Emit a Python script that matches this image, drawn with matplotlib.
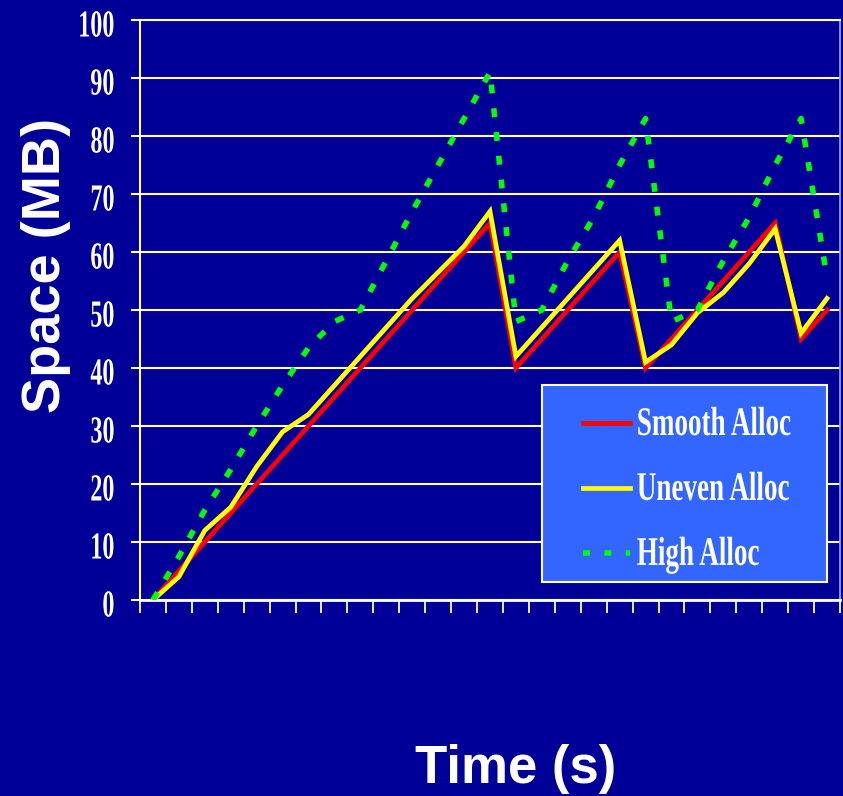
import numpy as np
import matplotlib
matplotlib.use('Agg')
import matplotlib.pyplot as plt
from matplotlib.patheffects import AbstractPathEffect
from matplotlib.transforms import Affine2D, Bbox
from matplotlib.patches import Rectangle

# ---- data ----
smooth_alloc = [0, 5, 10, 15, 20, 25, 30, 35, 40, 45, 50, 55, 60, 65,
                40, 45, 50, 55, 60, 40, 45, 50, 55, 60, 65, 45, 50]
uneven_alloc = [0, 4, 12, 16, 23, 29, 32, 37, 42, 47, 52, 56.5, 61, 67,
                42, 47, 52, 57, 62, 41, 44, 49.5, 53, 58, 64, 46, 52]
high_alloc = [0, 7.5, 15.5, 22.5, 30, 37, 43.5, 48, 50, 58.5, 67, 75, 83, 91,
              48, 50, 58.5, 66, 75, 83, 48, 50, 58.5, 66, 75, 83, 55.5]
series_names = ['Smooth Alloc', 'Uneven Alloc', 'High Alloc']
y_ticks = [0, 10, 20, 30, 40, 50, 60, 70, 80, 90, 100]
x_label = 'Time (s)'
y_label = 'Space (MB)'

W, H = 843, 796
BG = '#000099'


class Condense(AbstractPathEffect):
    """Reshape glyphs (narrow/tall condensed Times look)."""
    def __init__(self, sx=0.65, sy=1.0, anchor='left', dy=0.0):
        super().__init__()
        self.sx = sx
        self.sy = sy
        self.anchor = anchor
        self.dy = dy

    def draw_path(self, renderer, gc, tpath, affine, rgbFace=None):
        v = tpath.vertices
        if self.anchor == 'right' and len(v):
            x0 = v[:, 0].max()
        else:
            x0 = 0.0
        t = (Affine2D().translate(-x0, 0).scale(self.sx, self.sy).translate(x0, 0)
             + affine + Affine2D().translate(0, self.dy))
        renderer.draw_path(gc, tpath, t, rgbFace)


def condense_text(text, sx, sy=1.0, anchor='left', dy=0.0):
    text.set_path_effects([Condense(sx, sy, anchor, dy)])
    orig = text.get_window_extent

    def extent(renderer=None, dpi=None):
        bb = orig(renderer=renderer, dpi=dpi)
        w = bb.width * sx
        x0 = bb.x1 - w if anchor == 'right' else bb.x0
        return Bbox.from_bounds(x0, bb.y0 + dy, w, bb.height * sy)
    text.get_window_extent = extent


fig = plt.figure(figsize=(W / 100, H / 100), dpi=100, facecolor=BG)
ax = fig.add_axes([140 / W, (H - 600) / H, 700 / W, 580 / H], facecolor=BG)

x = np.arange(len(smooth_alloc))
ax.plot(x, smooth_alloc, color='#FF0000', lw=3.4, solid_joinstyle='miter',
        label=series_names[0], zorder=3)
ax.plot(x, uneven_alloc, color='#FFFF00', lw=3.4, solid_joinstyle='miter',
        label=series_names[1], zorder=4)
ax.plot(x, high_alloc, color='#00FF00', lw=4, linestyle=(0, (1.6, 2.7)),
        label=series_names[2], zorder=5)

ax.set_xlim(-0.5, len(x) - 0.5)
ax.set_ylim(0, 100)
ax.set_xticks(np.arange(-0.5, len(x), 1.0))
ax.set_xticklabels([])
ax.set_yticks(y_ticks)
ax.set_yticklabels([str(v) for v in y_ticks], fontfamily='Liberation Serif',
                   fontweight='bold', fontsize=27.5, color='white')

ax.tick_params(axis='x', length=9.4, width=1.3, color='white', direction='out')
ax.tick_params(axis='y', length=6.5, width=1.5, color='white', direction='out', pad=11.5)
for lab in ax.get_yticklabels():
    condense_text(lab, 0.63, 1.0, 'right', dy=-3)
ax.yaxis.grid(True, color='white', lw=1.5)
ax.xaxis.grid(False)
ax.set_axisbelow(True)

for side in ['left', 'top', 'bottom']:
    ax.spines[side].set_color('white')
    ax.spines[side].set_linewidth(1.5)
ax.spines['bottom'].set_linewidth(2)
ax.spines['right'].set_color('#aaaadd')
ax.spines['right'].set_linewidth(1.2)

# legend box
rect = Rectangle((542 / W, (H - 582) / H), 285 / W, 197 / H, transform=fig.transFigure,
                 facecolor='#3366FF', edgecolor='white', lw=1.5, zorder=6)
ax.add_patch(rect)
rect.set_clip_on(False)

leg = ax.legend(loc='upper left', bbox_to_anchor=(583 / W, (H - 410) / H),
                bbox_transform=fig.transFigure, frameon=False, borderpad=0,
                borderaxespad=0, handlelength=1.35, handletextpad=0.2,
                labelspacing=0.92,
                prop={'family': 'Liberation Serif', 'weight': 'bold', 'size': 25},
                labelcolor='white')
leg.set_zorder(7)
leg.legend_handles[2].set_linestyle((0, (1.25, 2.6)))
for t in leg.get_texts():
    condense_text(t, 0.78, 1.17, 'left')

fig.text(46 / W, 1 - 265 / H, y_label, rotation=90, ha='center', va='center',
         fontfamily='Liberation Sans', fontweight='bold', fontsize=39, color='white')
fig.text(516 / W, 1 - 783 / H, x_label, ha='center', va='baseline',
         fontfamily='Liberation Sans', fontweight='bold', fontsize=38, color='white')

fig.savefig('out.png', dpi=100, facecolor=BG)
